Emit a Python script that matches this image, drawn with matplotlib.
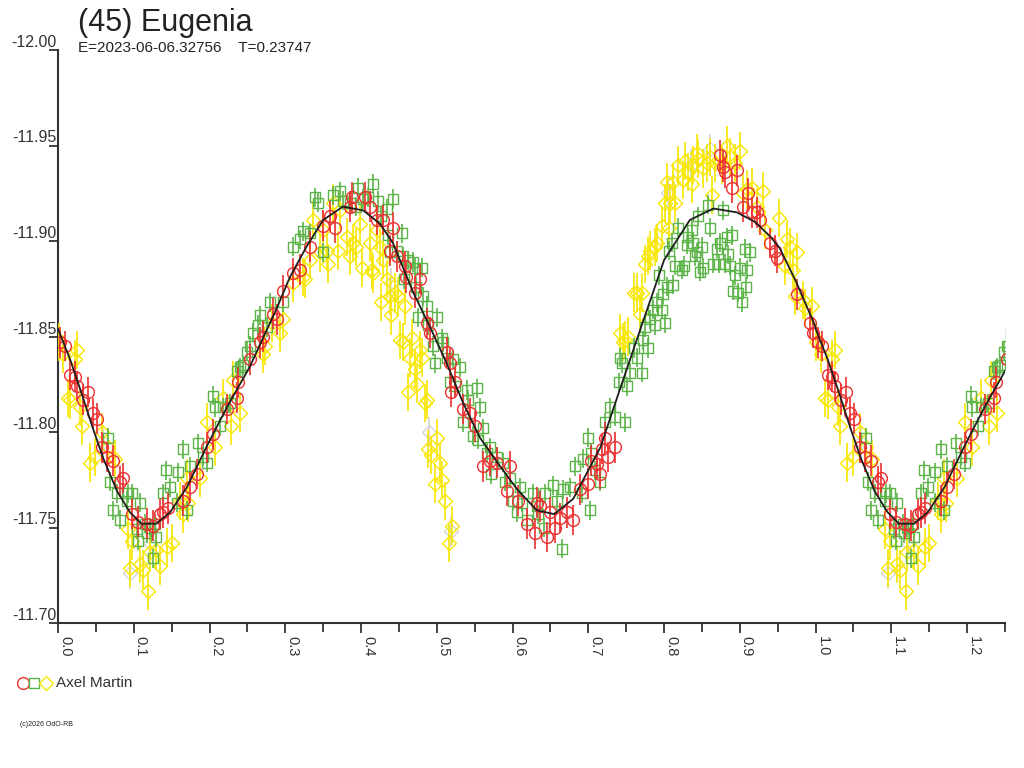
import numpy as np
import matplotlib
matplotlib.use("Agg")
import matplotlib.pyplot as plt
from matplotlib.lines import Line2D

plt.rcParams["font.family"] = ["Liberation Sans", "DejaVu Sans"]

# fitted curve (phase 0..1)
curve_phase = [0.000, 0.016, 0.033, 0.046, 0.060, 0.078, 0.095, 0.110, 0.130, 0.148,
               0.170, 0.197, 0.223, 0.253, 0.289, 0.306, 0.328, 0.350, 0.376, 0.403,
               0.425, 0.442, 0.469, 0.491, 0.513, 0.535, 0.557, 0.580, 0.606, 0.632,
               0.655, 0.680, 0.716, 0.738, 0.768, 0.800, 0.834, 0.865, 0.896, 0.920,
               0.941, 0.953, 0.975, 1.000]
curve_mag = [-11.854, -11.838, -11.818, -11.802, -11.786, -11.769, -11.758, -11.752, -11.752, -11.758,
             -11.771, -11.793, -11.813, -11.834, -11.865, -11.881, -11.897, -11.911, -11.918, -11.916,
             -11.909, -11.899, -11.873, -11.855, -11.836, -11.815, -11.797, -11.784, -11.770, -11.759,
             -11.757, -11.765, -11.792, -11.818, -11.853, -11.890, -11.911, -11.917, -11.915, -11.910,
             -11.902, -11.896, -11.878, -11.855]

red_phase = [0.003, 0.009, 0.016, 0.022, 0.025, 0.033, 0.040, 0.046, 0.051, 0.058,
             0.065, 0.073, 0.082, 0.086, 0.098, 0.106, 0.118, 0.126, 0.135, 0.139,
             0.145, 0.165, 0.174, 0.183, 0.197, 0.205, 0.223, 0.236, 0.238, 0.253,
             0.267, 0.271, 0.284, 0.289, 0.297, 0.310, 0.319, 0.333, 0.350, 0.359,
             0.366, 0.385, 0.388, 0.405, 0.412, 0.421, 0.429, 0.438, 0.442, 0.447,
             0.458, 0.460, 0.471, 0.478, 0.487, 0.491, 0.513, 0.517, 0.519, 0.524,
             0.535, 0.544, 0.551, 0.561, 0.570, 0.580, 0.593, 0.597, 0.607, 0.619,
             0.630, 0.632, 0.636, 0.645, 0.650, 0.656, 0.663, 0.672, 0.680, 0.689,
             0.700, 0.704, 0.711, 0.716, 0.718, 0.722, 0.726, 0.735, 0.874, 0.878,
             0.881, 0.889, 0.896, 0.904, 0.911, 0.916, 0.922, 0.927, 0.940, 0.947,
             0.949, 0.976, 0.993, 0.997]
red_mag = [-11.847, -11.845, -11.830, -11.829, -11.824, -11.817, -11.821, -11.810, -11.807, -11.792,
           -11.787, -11.785, -11.774, -11.776, -11.757, -11.753, -11.752, -11.751, -11.757, -11.758,
           -11.760, -11.764, -11.771, -11.778, -11.792, -11.799, -11.812, -11.818, -11.826, -11.838,
           -11.847, -11.850, -11.862, -11.859, -11.874, -11.883, -11.885, -11.897, -11.908, -11.913,
           -11.907, -11.918, -11.923, -11.923, -11.918, -11.911, -11.911, -11.895, -11.907, -11.892,
           -11.887, -11.881, -11.873, -11.880, -11.857, -11.852, -11.842, -11.836, -11.821, -11.826,
           -11.812, -11.810, -11.803, -11.782, -11.785, -11.784, -11.769, -11.782, -11.764, -11.752,
           -11.747, -11.763, -11.761, -11.745, -11.758, -11.750, -11.755, -11.758, -11.754, -11.770,
           -11.773, -11.785, -11.783, -11.778, -11.791, -11.797, -11.787, -11.792, -11.945, -11.939,
           -11.936, -11.928, -11.937, -11.918, -11.925, -11.915, -11.915, -11.911, -11.899, -11.895,
           -11.891, -11.872, -11.857, -11.852]

green_phase = [0.066, 0.069, 0.073, 0.078, 0.082, 0.091, 0.093, 0.098, 0.104, 0.106,
               0.108, 0.115, 0.117, 0.121, 0.126, 0.128, 0.130, 0.139, 0.143, 0.148,
               0.157, 0.158, 0.165, 0.170, 0.174, 0.185, 0.192, 0.197, 0.205, 0.207,
               0.214, 0.218, 0.227, 0.236, 0.240, 0.244, 0.249, 0.253, 0.258, 0.264,
               0.267, 0.276, 0.280, 0.297, 0.310, 0.319, 0.324, 0.333, 0.339, 0.343,
               0.350, 0.363, 0.372, 0.376, 0.385, 0.394, 0.396, 0.403, 0.409, 0.416,
               0.423, 0.427, 0.434, 0.436, 0.438, 0.442, 0.447, 0.454, 0.455, 0.457,
               0.462, 0.469, 0.471, 0.473, 0.475, 0.480, 0.482, 0.487, 0.488, 0.495,
               0.498, 0.500, 0.507, 0.508, 0.513, 0.517, 0.522, 0.524, 0.531, 0.535,
               0.540, 0.541, 0.548, 0.553, 0.555, 0.557, 0.561, 0.566, 0.570, 0.572,
               0.580, 0.588, 0.590, 0.597, 0.601, 0.606, 0.610, 0.612, 0.619, 0.627,
               0.632, 0.634, 0.641, 0.643, 0.654, 0.658, 0.665, 0.667, 0.676, 0.682,
               0.691, 0.693, 0.700, 0.702, 0.704, 0.709, 0.716, 0.722, 0.729, 0.735,
               0.740, 0.742, 0.744, 0.748, 0.751, 0.755, 0.760, 0.764, 0.771, 0.772,
               0.775, 0.779, 0.782, 0.786, 0.788, 0.791, 0.793, 0.797, 0.799, 0.801,
               0.804, 0.806, 0.810, 0.812, 0.815, 0.818, 0.824, 0.826, 0.830, 0.832,
               0.837, 0.838, 0.841, 0.843, 0.845, 0.848, 0.850, 0.852, 0.858, 0.861,
               0.865, 0.870, 0.872, 0.874, 0.878, 0.881, 0.883, 0.885, 0.887, 0.889,
               0.891, 0.894, 0.898, 0.900, 0.903, 0.907, 0.908, 0.910, 0.914]
green_mag = [-11.797, -11.774, -11.759, -11.768, -11.754, -11.764, -11.768, -11.768, -11.749, -11.743,
             -11.763, -11.752, -11.747, -11.750, -11.734, -11.752, -11.745, -11.768, -11.780, -11.771,
             -11.763, -11.779, -11.791, -11.759, -11.782, -11.794, -11.787, -11.784, -11.819, -11.813,
             -11.803, -11.813, -11.815, -11.832, -11.834, -11.835, -11.842, -11.845, -11.852, -11.856,
             -11.861, -11.855, -11.868, -11.868, -11.897, -11.901, -11.905, -11.904, -11.923, -11.920,
             -11.894, -11.924, -11.926, -11.921, -11.920, -11.918, -11.928, -11.922, -11.923, -11.930,
             -11.921, -11.913, -11.917, -11.903, -11.894, -11.922, -11.895, -11.904, -11.892, -11.880,
             -11.890, -11.889, -11.886, -11.876, -11.860, -11.886, -11.871, -11.866, -11.856, -11.845,
             -11.836, -11.860, -11.849, -11.847, -11.839, -11.826, -11.838, -11.824, -11.834, -11.805,
             -11.822, -11.817, -11.798, -11.823, -11.796, -11.813, -11.802, -11.789, -11.792, -11.778,
             -11.787, -11.784, -11.774, -11.776, -11.764, -11.758, -11.771, -11.763, -11.754, -11.768,
             -11.761, -11.757, -11.750, -11.768, -11.772, -11.764, -11.739, -11.770, -11.771, -11.782,
             -11.768, -11.786, -11.797, -11.759, -11.789, -11.780, -11.774, -11.805, -11.813, -11.808,
             -11.826, -11.839, -11.836, -11.805, -11.824, -11.831, -11.844, -11.839, -11.831, -11.848,
             -11.855, -11.844, -11.859, -11.864, -11.856, -11.868, -11.882, -11.864, -11.872, -11.857,
             -11.876, -11.895, -11.899, -11.877, -11.887, -11.907, -11.885, -11.887, -11.898, -11.902,
             -11.906, -11.899, -11.892, -11.894, -11.913, -11.884, -11.897, -11.886, -11.919, -11.907,
             -11.888, -11.896, -11.888, -11.899, -11.916, -11.888, -11.902, -11.893, -11.887, -11.903,
             -11.874, -11.882, -11.873, -11.886, -11.868, -11.896, -11.876, -11.885, -11.894]

yellow_phase = [0.001, 0.007, 0.013, 0.016, 0.022, 0.025, 0.029, 0.032, 0.042, 0.049,
                0.058, 0.066, 0.075, 0.092, 0.095, 0.098, 0.108, 0.112, 0.119, 0.121,
                0.130, 0.135, 0.144, 0.150, 0.161, 0.165, 0.170, 0.172, 0.187, 0.197,
                0.207, 0.218, 0.229, 0.231, 0.240, 0.271, 0.273, 0.282, 0.293, 0.297,
                0.310, 0.324, 0.326, 0.333, 0.337, 0.346, 0.350, 0.355, 0.357, 0.363,
                0.370, 0.372, 0.381, 0.385, 0.390, 0.394, 0.399, 0.401, 0.412, 0.414,
                0.416, 0.421, 0.425, 0.427, 0.429, 0.434, 0.438, 0.440, 0.445, 0.449,
                0.451, 0.455, 0.458, 0.462, 0.465, 0.467, 0.471, 0.474, 0.478, 0.480,
                0.485, 0.487, 0.488, 0.493, 0.498, 0.500, 0.504, 0.507, 0.511, 0.516,
                0.520, 0.742, 0.746, 0.748, 0.752, 0.760, 0.764, 0.768, 0.771, 0.775,
                0.779, 0.782, 0.788, 0.791, 0.797, 0.801, 0.804, 0.806, 0.808, 0.812,
                0.815, 0.818, 0.825, 0.828, 0.832, 0.837, 0.838, 0.843, 0.845, 0.852,
                0.856, 0.861, 0.863, 0.867, 0.876, 0.883, 0.887, 0.894, 0.900, 0.904,
                0.910, 0.916, 0.923, 0.931, 0.933, 0.952, 0.960, 0.962, 0.966, 0.970,
                0.973, 0.976, 0.984, 0.986, 0.995]
yellow_mag = [-11.847, -11.841, -11.818, -11.817, -11.838, -11.843, -11.813, -11.803, -11.784, -11.787,
              -11.800, -11.792, -11.786, -11.749, -11.729, -11.743, -11.731, -11.728, -11.717, -11.737,
              -11.738, -11.730, -11.740, -11.742, -11.764, -11.757, -11.776, -11.763, -11.776, -11.805,
              -11.792, -11.818, -11.803, -11.827, -11.810, -11.841, -11.845, -11.857, -11.852, -11.859,
              -11.878, -11.881, -11.880, -11.890, -11.911, -11.894, -11.906, -11.895, -11.888, -11.920,
              -11.895, -11.916, -11.902, -11.892, -11.899, -11.897, -11.909, -11.886, -11.899, -11.885,
              -11.883, -11.906, -11.897, -11.868, -11.890, -11.880, -11.871, -11.861, -11.873, -11.871,
              -11.848, -11.847, -11.866, -11.821, -11.839, -11.849, -11.833, -11.825, -11.843, -11.839,
              -11.815, -11.817, -11.791, -11.788, -11.773, -11.797, -11.784, -11.775, -11.764, -11.742,
              -11.751, -11.852, -11.847, -11.848, -11.850, -11.873, -11.873, -11.862, -11.873, -11.888,
              -11.892, -11.895, -11.897, -11.899, -11.908, -11.920, -11.931, -11.907, -11.920, -11.931,
              -11.920, -11.940, -11.932, -11.942, -11.936, -11.930, -11.940, -11.946, -11.943, -11.938,
              -11.941, -11.944, -11.924, -11.941, -11.940, -11.950, -11.944, -11.941, -11.947, -11.925,
              -11.927, -11.928, -11.918, -11.926, -11.906, -11.912, -11.887, -11.901, -11.897, -11.885,
              -11.871, -11.894, -11.869, -11.865, -11.866]

grey_phase = [0.060, 0.095, 0.122, 0.440, 0.490, 0.519, 0.805, 0.835, 0.860]
grey_mag = [-11.795, -11.726, -11.742, -11.878, -11.800, -11.748, -11.925, -11.940, -11.948]

red_err = 0.008
green_err = 0.005
yellow_err = 0.010
grey_err = 0.008

x_ticks = [0.0, 0.1, 0.2, 0.3, 0.4, 0.5, 0.6, 0.7, 0.8, 0.9, 1.0, 1.1, 1.2]
y_ticks = [-12.00, -11.95, -11.90, -11.85, -11.80, -11.75, -11.70]


def wrap(ph, mg, limit=0.26):
    # repeat the start of the phase curve after 1.0
    ph = np.asarray(ph)
    mg = np.asarray(mg)
    m = ph <= limit
    return np.concatenate([ph, ph[m] + 1.0]), np.concatenate([mg, mg[m]])


fig = plt.figure(figsize=(10.24, 7.68), dpi=100)
ax = fig.add_axes([58 / 1024, 1 - 623 / 768, (1005 - 58) / 1024, (623 - 50) / 768])

series = [
    (grey_phase, grey_mag, grey_err, "#d4d4d4", "D", 7, 2),
    (yellow_phase, yellow_mag, yellow_err, "#f7e600", "D", 7.5, 3),
    (green_phase, green_mag, green_err, "#5cb449", "s", 6.5, 4),
    (red_phase, red_mag, red_err, "#ee2f2f", "o", 8.5, 5),
]
for ph, mg, err, col, mk, ms, z in series:
    xp, yp = wrap(ph, mg)
    ax.errorbar(xp, yp, yerr=err, fmt=mk, ms=ms, mfc="none", mec=col, mew=1.0,
                ecolor=col, elinewidth=1.2, capsize=0, zorder=z)

cx, cy = wrap(curve_phase, curve_mag)
order = np.argsort(cx)
ax.plot(cx[order], cy[order], color="#1e1e1e", lw=1.3, zorder=6)

ax.set_xlim(0, 1.25)
ax.set_ylim(-11.70, -12.00)
for s in ["top", "right"]:
    ax.spines[s].set_visible(False)
for s in ["left", "bottom"]:
    ax.spines[s].set_color("#333333")
    ax.spines[s].set_linewidth(1.5)

ax.set_xticks(x_ticks)
ax.set_xticks(np.array(x_ticks) + 0.05, minor=True)
ax.set_xticklabels(["%.1f" % t for t in x_ticks], rotation=270, ha="left", va="top",
                   fontsize=10.5, color="#333333")
ax.tick_params(axis="x", which="major", length=7.5, width=1.3, color="#333333", pad=2)
ax.tick_params(axis="x", which="minor", length=6.5, width=1.3, color="#333333")

ax.set_yticks(y_ticks)
ax.set_yticklabels(["%.2f" % t for t in y_ticks], fontsize=11.5, color="#333333")
ax.tick_params(axis="y", length=6.5, width=1.3, color="#333333", pad=-5.5)
for lab in ax.get_yticklabels():
    lab.set_va("bottom")

fig.text(78 / 1024, 1 - 8 / 768, "(45) Eugenia", fontsize=22, color="#222222", va="top")
fig.text(78 / 1024, 1 - 41 / 768, "E=2023-06-06.32756    T=0.23747", fontsize=11,
         color="#222222", va="top")

# legend line
leg_y = 1 - 683 / 768
for xpx, mk, col, ms in [(23, "o", "#ee2f2f", 8.5), (34, "s", "#5cb449", 6.5), (46, "D", "#f7e600", 7)]:
    fig.add_artist(Line2D([xpx / 1024], [leg_y], marker=mk, ms=ms, mfc="none", mec=col,
                          mew=1.0, linestyle="none"))
fig.text(56 / 1024, leg_y, "Axel Martin", fontsize=11, color="#333333", va="center")
fig.text(20 / 1024, 1 - 725 / 768, "(c)2026 OdO-RB", fontsize=5, color="#222222", va="center")

fig.savefig("out.png", dpi=100)
